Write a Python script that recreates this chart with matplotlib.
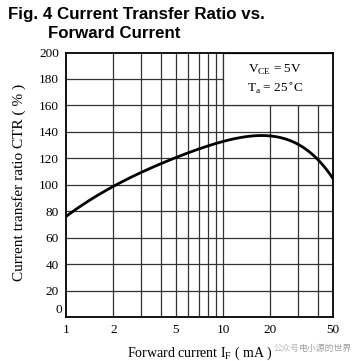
import matplotlib
matplotlib.use("Agg")
import matplotlib.pyplot as plt
import numpy as np
from matplotlib.patches import Rectangle

# Data
if_ma = [1, 2, 3, 4, 5, 7, 8, 10, 15.5, 20, 30, 40, 50]
ctr = [76, 99, 109, 115.5, 121, 127, 129.5, 132.5, 137.5, 136.3, 130.5, 119.5, 104.5]
xticks = [1, 2, 5, 10, 20, 50]
xtick_labels = ["1", "2", "5", "10", "20", "50"]
xgrid = [2, 3, 4, 5, 6, 7, 8, 9, 10, 20, 30, 40]
yticks = [0, 20, 40, 60, 80, 100, 120, 140, 160, 180, 200]

serif = ["Liberation Serif", "DejaVu Serif"]
cjk = ["Noto Sans CJK SC", "DejaVu Sans"]

fig = plt.figure(figsize=(3.56, 3.61), dpi=100)
ax = fig.add_axes([66/356, 1-317/361, (333-66)/356, (317-52.5)/361])
ax.set_xscale("log")
ax.set_xlim(1, 50)
ax.set_ylim(0, 200)

# grid
for y in yticks[1:-1]:
    ax.axhline(y, color="#333333", lw=0.9, zorder=1)
for x in xgrid:
    ax.axvline(x, color="#333333", lw=0.9, zorder=1)

# condition box covering grid
ax.add_patch(Rectangle((10, 160), 40, 40, facecolor="white", edgecolor="#333333",
                       lw=0.9, zorder=2))
ax.text(0.783, 0.934, r"V$_{\mathregular{CE}}$ = 5V", transform=ax.transAxes,
        ha="center", va="center", fontsize=9.5, family=serif, zorder=3)
ax.text(0.783, 0.866, r"T$_{\mathregular{a}}$ = 25$^{\circ}$C", transform=ax.transAxes,
        ha="center", va="center", fontsize=9.5, family=serif, zorder=3)

# curve (smooth through read points in log-x)
lx = np.log10(if_ma)
xs = np.linspace(lx[0], lx[-1], 300)
coef = np.polyfit(lx, ctr, 5)
ax.plot(10**xs, np.polyval(coef, xs), color="black", lw=2.0, zorder=4)

for s in ax.spines.values():
    s.set_linewidth(1.3)
    s.set_zorder(5)

ax.set_xticks(xticks)
ax.set_xticklabels(xtick_labels)
ax.xaxis.set_minor_locator(matplotlib.ticker.NullLocator())
ax.set_yticks(yticks)
ax.set_yticklabels([str(v) if v != 0 else "" for v in yticks])
ax.tick_params(length=0, pad=5, labelsize=9.5)
for lab in ax.get_xticklabels() + ax.get_yticklabels():
    lab.set_family(serif)
ax.text(-0.015, 0.025, "0", transform=ax.transAxes, ha="right", va="center",
        fontsize=9.5, family=serif)

ax.set_xlabel(r"Forward current I$_{\mathregular{F}}$ ( mA )", family=serif, fontsize=10, labelpad=6)
ax.set_ylabel("Current transfer ratio CTR ( % )", family=serif, fontsize=11, labelpad=10)
ax.yaxis.set_label_coords(-0.148, 0.51)

fig.text(8/356, 1-15/361, "Fig. 4 Current Transfer Ratio vs.", fontsize=12.2,
         fontweight="bold", family=["Liberation Sans", "DejaVu Sans"], va="center", ha="left")
fig.text(48/356, 1-34/361, "Forward Current", fontsize=12.2,
         fontweight="bold", family=["Liberation Sans", "DejaVu Sans"], va="center", ha="left")

# watermark
fig.text(287/356, 1-348/361, "公众号", fontsize=6.2, color="#b8b8b8",
         family=cjk, ha="center", va="center")
fig.text(352/356, 1-348/361, "电小源的世界", fontsize=6.4, color="#a0a0a0",
         family=cjk, ha="right", va="center")

fig.savefig("out.png", dpi=100)
